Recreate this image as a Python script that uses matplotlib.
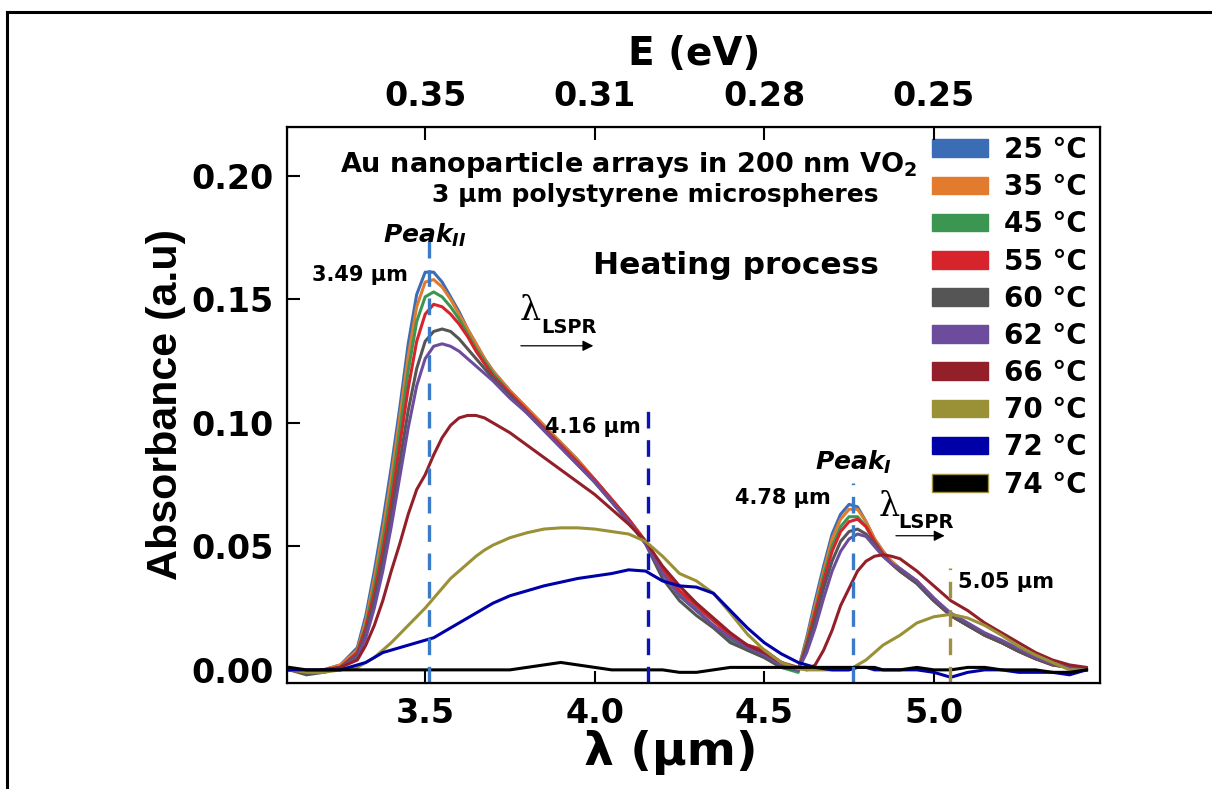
import matplotlib
matplotlib.use('Agg')
import matplotlib.pyplot as plt
from matplotlib.patches import Patch
from matplotlib.lines import Line2D

plt.rcParams['font.family'] = ['DejaVu Sans']
plt.rcParams['font.weight'] = 'bold'
plt.rcParams['axes.labelweight'] = 'bold'
plt.rcParams['mathtext.fontset'] = 'custom'
plt.rcParams['mathtext.rm'] = 'DejaVu Sans:bold'
plt.rcParams['mathtext.it'] = 'DejaVu Sans:italic:bold'
plt.rcParams['mathtext.bf'] = 'DejaVu Sans:bold'

# wavelength grid (um)
wavelength = [3.10, 3.15, 3.20, 3.25,
              3.30, 3.325, 3.35, 3.375, 3.40, 3.425, 3.45, 3.475, 3.50, 3.525, 3.55, 3.575, 3.60, 3.625, 3.65, 3.675, 3.70,
              3.75, 3.80, 3.85, 3.90, 3.95, 4.00, 4.05, 4.10, 4.15,
              4.20, 4.25, 4.30, 4.35, 4.40, 4.45, 4.50, 4.55, 4.60,
              4.625, 4.65, 4.675, 4.70, 4.725, 4.75, 4.775, 4.80, 4.825, 4.85, 4.875, 4.90,
              4.95, 5.00, 5.05, 5.10, 5.15, 5.20, 5.25, 5.30, 5.35, 5.40, 5.45]

abs_25 = [0.000, -0.001, 0.000, 0.002,
          0.009, 0.022, 0.040, 0.060, 0.082, 0.106, 0.132, 0.152, 0.161, 0.161, 0.157, 0.151, 0.145, 0.138, 0.132, 0.126, 0.121,
          0.113, 0.106, 0.099, 0.092, 0.085, 0.077, 0.069, 0.061, 0.052,
          0.041, 0.031, 0.025, 0.020, 0.014, 0.009, 0.006, 0.002, 0.000,
          0.013, 0.028, 0.042, 0.055, 0.063, 0.067, 0.066, 0.060, 0.053, 0.048, 0.044, 0.041,
          0.036, 0.029, 0.022, 0.018, 0.0145, 0.0115, 0.008, 0.005, 0.0025, 0.001, 0.000]
abs_35 = [0.000, -0.001, 0.000, 0.002,
          0.008, 0.020, 0.037, 0.056, 0.078, 0.102, 0.127, 0.147, 0.157, 0.158, 0.155, 0.150, 0.144, 0.138, 0.132, 0.126, 0.121,
          0.113, 0.106, 0.099, 0.092, 0.085, 0.077, 0.069, 0.061, 0.052,
          0.041, 0.032, 0.026, 0.020, 0.014, 0.010, 0.008, 0.003, 0.000,
          0.012, 0.026, 0.040, 0.053, 0.061, 0.065, 0.065, 0.060, 0.053, 0.048, 0.044, 0.041,
          0.036, 0.029, 0.022, 0.018, 0.0145, 0.0115, 0.008, 0.005, 0.0025, 0.001, 0.000]
abs_45 = [0.000, -0.001, -0.001, 0.001,
          0.007, 0.018, 0.034, 0.052, 0.073, 0.097, 0.121, 0.141, 0.151, 0.153, 0.151, 0.147, 0.142, 0.136, 0.130, 0.125, 0.120,
          0.112, 0.105, 0.098, 0.091, 0.084, 0.076, 0.068, 0.060, 0.052,
          0.040, 0.030, 0.024, 0.018, 0.012, 0.008, 0.005, 0.001, -0.001,
          0.011, 0.024, 0.038, 0.050, 0.058, 0.062, 0.062, 0.058, 0.052, 0.047, 0.043, 0.040,
          0.035, 0.028, 0.022, 0.018, 0.014, 0.011, 0.0075, 0.0045, 0.002, 0.001, 0.000]
abs_55 = [0.000, -0.001, 0.000, 0.001,
          0.007, 0.017, 0.031, 0.048, 0.068, 0.091, 0.114, 0.133, 0.144, 0.148, 0.147, 0.144, 0.140, 0.135, 0.129, 0.124, 0.119,
          0.112, 0.105, 0.098, 0.091, 0.084, 0.077, 0.069, 0.061, 0.052,
          0.041, 0.032, 0.026, 0.020, 0.014, 0.010, 0.008, 0.003, 0.000,
          0.010, 0.023, 0.036, 0.048, 0.056, 0.060, 0.061, 0.058, 0.052, 0.047, 0.043, 0.040,
          0.035, 0.028, 0.022, 0.018, 0.014, 0.011, 0.0075, 0.0045, 0.002, 0.001, 0.000]
abs_60 = [0.000, -0.002, -0.001, 0.001,
          0.006, 0.015, 0.028, 0.044, 0.063, 0.084, 0.105, 0.122, 0.133, 0.137, 0.138, 0.137, 0.134, 0.130, 0.126, 0.122, 0.118,
          0.111, 0.104, 0.097, 0.090, 0.083, 0.076, 0.068, 0.060, 0.051,
          0.037, 0.028, 0.022, 0.017, 0.011, 0.008, 0.005, 0.001, 0.000,
          0.009, 0.020, 0.033, 0.044, 0.052, 0.056, 0.057, 0.055, 0.051, 0.046, 0.043, 0.040,
          0.035, 0.028, 0.022, 0.018, 0.014, 0.011, 0.0075, 0.0045, 0.002, 0.001, 0.000]
abs_62 = [0.000, -0.001, -0.001, 0.001,
          0.005, 0.013, 0.025, 0.040, 0.058, 0.078, 0.098, 0.115, 0.126, 0.131, 0.132, 0.131, 0.129, 0.126, 0.123, 0.120, 0.117,
          0.110, 0.104, 0.097, 0.090, 0.083, 0.076, 0.068, 0.060, 0.051,
          0.039, 0.030, 0.024, 0.018, 0.013, 0.009, 0.006, 0.002, 0.000,
          0.007, 0.017, 0.029, 0.040, 0.048, 0.053, 0.055, 0.054, 0.050, 0.046, 0.043, 0.041,
          0.036, 0.029, 0.023, 0.019, 0.015, 0.012, 0.0085, 0.005, 0.0025, 0.001, 0.000]
abs_66 = [0.000, -0.001, 0.000, 0.001,
          0.004, 0.010, 0.018, 0.028, 0.040, 0.051, 0.063, 0.073, 0.079, 0.087, 0.094, 0.099, 0.102, 0.103, 0.103, 0.102, 0.100,
          0.096, 0.091, 0.086, 0.081, 0.076, 0.071, 0.065, 0.059, 0.052,
          0.042, 0.034, 0.027, 0.021, 0.015, 0.010, 0.007, 0.003, 0.001,
          0.000, 0.002, 0.008, 0.016, 0.026, 0.033, 0.040, 0.044, 0.046, 0.0466, 0.046, 0.045,
          0.040, 0.034, 0.028, 0.024, 0.019, 0.015, 0.011, 0.007, 0.004, 0.002, 0.001]
abs_70 = [0.000, -0.001, -0.001, 0.000,
          0.001, 0.003, 0.005, 0.008, 0.011, 0.0145, 0.018, 0.0215, 0.025, 0.029, 0.033, 0.037, 0.040, 0.043, 0.046, 0.0485, 0.0505,
          0.0535, 0.0555, 0.057, 0.0575, 0.0575, 0.057, 0.056, 0.055, 0.052,
          0.046, 0.039, 0.036, 0.031, 0.023, 0.0145, 0.008, 0.003, 0.0005,
          0.000, 0.000, 0.000, 0.000, 0.000, 0.000, 0.002, 0.004, 0.007, 0.010, 0.012, 0.014,
          0.019, 0.0215, 0.0225, 0.021, 0.018, 0.014, 0.0095, 0.006, 0.003, 0.000, 0.000]
abs_72 = [0.000, 0.000, 0.000, 0.000,
          0.002, 0.003, 0.005, 0.007, 0.008, 0.009, 0.010, 0.011, 0.012, 0.013, 0.015, 0.017, 0.019, 0.021, 0.023, 0.025, 0.027,
          0.030, 0.032, 0.034, 0.0355, 0.037, 0.038, 0.039, 0.0405, 0.040,
          0.036, 0.034, 0.0335, 0.031, 0.024, 0.017, 0.011, 0.0065, 0.003,
          0.002, 0.001, 0.0005, 0.000, 0.000, 0.000, 0.001, 0.001, 0.000, 0.000, 0.000, 0.000,
          0.000, -0.001, -0.003, -0.001, 0.000, 0.000, -0.001, -0.001, -0.001, -0.002, 0.000]
abs_74 = [0.001, 0.000, 0.000, 0.000,
          0.000, 0.000, 0.000, 0.000, 0.000, 0.000, 0.000, 0.000, 0.000, 0.000, 0.000, 0.000, 0.000, 0.000, 0.000, 0.000, 0.000,
          0.000, 0.001, 0.002, 0.003, 0.002, 0.001, 0.000, 0.000, 0.000,
          0.000, -0.001, -0.001, 0.000, 0.001, 0.001, 0.001, 0.001, 0.001,
          0.001, 0.001, 0.001, 0.001, 0.001, 0.001, 0.001, 0.001, 0.001, 0.000, 0.000, 0.000,
          0.001, 0.000, 0.000, 0.001, 0.001, 0.000, 0.000, 0.000, -0.001, -0.001, 0.000]

temps = ['25 °C', '35 °C', '45 °C', '55 °C', '60 °C', '62 °C', '66 °C', '70 °C', '72 °C', '74 °C']
colors = ['#3a6db5', '#e27b2e', '#3a9650', '#d7242c', '#555555',
          '#6d4c9e', '#932029', '#9a9137', '#0000a8', '#000000']
spectra = [abs_25, abs_35, abs_45, abs_55, abs_60, abs_62, abs_66, abs_70, abs_72, abs_74]

# dashed peak markers: position, top of line, colour
peak_pos = [3.51, 4.157, 4.762, 5.048]
peak_top = [0.176, 0.105, 0.0757, 0.0413]
peak_col = ['#3b7ac6', '#0a14b4', '#3b7ac6', '#a09040']

x_ticks = [3.5, 4.0, 4.5, 5.0]
x_labels = ['3.5', '4.0', '4.5', '5.0']
energy_labels = ['0.35', '0.31', '0.28', '0.25']
y_ticks = [0.00, 0.05, 0.10, 0.15, 0.20]

fig = plt.figure(figsize=(12.12, 7.89), dpi=100)
ax = fig.add_axes([0.2372, 0.1344, 0.6704, 0.7047])

for y, c in zip(spectra, colors):
    ax.plot(wavelength, y, color=c, lw=2.2)

ymin = -0.0053
for p, t, c in zip(peak_pos, peak_top, peak_col):
    ax.plot([p, p], [ymin, t], color=c, lw=2.4, ls=(0, (5, 3.5)))

ax.set_xlim(3.094, 5.49)
ax.set_ylim(ymin, 0.2198)
ax.set_xticks(x_ticks)
ax.set_xticklabels(x_labels)
ax.set_yticks(y_ticks)
ax.set_yticklabels(['%.2f' % v for v in y_ticks])
ax.tick_params(direction='in', length=9, width=1.5, labelsize=24, pad=10)
for s in ax.spines.values():
    s.set_linewidth(1.6)

ax.set_ylabel('Absorbance (a.u)', fontsize=31, family='Liberation Sans', fontweight='bold')
ax.yaxis.set_label_coords(-0.125, 0.5)
ax.set_xlabel('λ (μm)', fontsize=34, fontweight='bold')
ax.xaxis.set_label_coords(0.472, -0.084)

ax2 = ax.twiny()
ax2.set_xlim(ax.get_xlim())
ax2.set_xticks(x_ticks)
ax2.set_xticklabels(energy_labels)
ax2.tick_params(direction='in', length=9, width=1.5, labelsize=24, pad=10)
ax2.set_xlabel('E (eV)', fontsize=28, fontweight='bold')
ax2.xaxis.set_label_coords(0.5, 1.112)

# annotations
ax.text(3.249, 0.2016, r'Au nanoparticle arrays in 200 nm VO$_2$', fontsize=19.5)
ax.text(4.836, 0.1895, '3 μm polystyrene microspheres', fontsize=18, ha='right')
ax.text(3.995, 0.1603, 'Heating process', fontsize=22.5)
ax.text(3.376, 0.1729, r'$Peak_{II}$', fontsize=18)
ax.text(4.650, 0.0810, r'$Peak_{I}$', fontsize=18)
ax.text(3.166, 0.1575, '3.49 μm', fontsize=15)
ax.text(3.854, 0.0960, '4.16 μm', fontsize=15)
ax.text(4.414, 0.0672, '4.78 μm', fontsize=15)
ax.text(5.072, 0.0332, '5.05 μm', fontsize=15)

for lx, ly, sx, sy, a0, a1, ay in [(3.780, 0.1417, 3.842, 0.1364, 3.774, 4.004, 0.1312),
                                    (4.836, 0.0623, 4.895, 0.0575, 4.880, 5.040, 0.0543)]:
    ax.text(lx, ly, 'λ', fontsize=24, family='DejaVu Serif', fontweight='normal')
    ax.text(sx, sy, 'LSPR', fontsize=14)
    ax.annotate('', xy=(a1, ay), xytext=(a0, ay),
                arrowprops=dict(arrowstyle='-|>', color='k', lw=0.9, mutation_scale=16))

handles = [Patch(facecolor=c, edgecolor=('#a09040' if c == '#000000' else c)) for c in colors]
ax.legend(handles, temps, loc='upper left', bbox_to_anchor=(932 / 1212, 1 - 136 / 789),
          bbox_transform=fig.transFigure, frameon=False, fontsize=20, handlelength=2.0,
          handleheight=0.6, handletextpad=0.6, labelspacing=0.33, borderpad=0, borderaxespad=0)

# outer frame
fig.add_artist(Line2D([7 / 1212, 1], [1 - 12 / 789, 1 - 12 / 789], transform=fig.transFigure, color='k', lw=2.2))
fig.add_artist(Line2D([7 / 1212, 7 / 1212], [0, 1 - 12 / 789], transform=fig.transFigure, color='k', lw=2.2))

fig.savefig('out.png', dpi=100)
